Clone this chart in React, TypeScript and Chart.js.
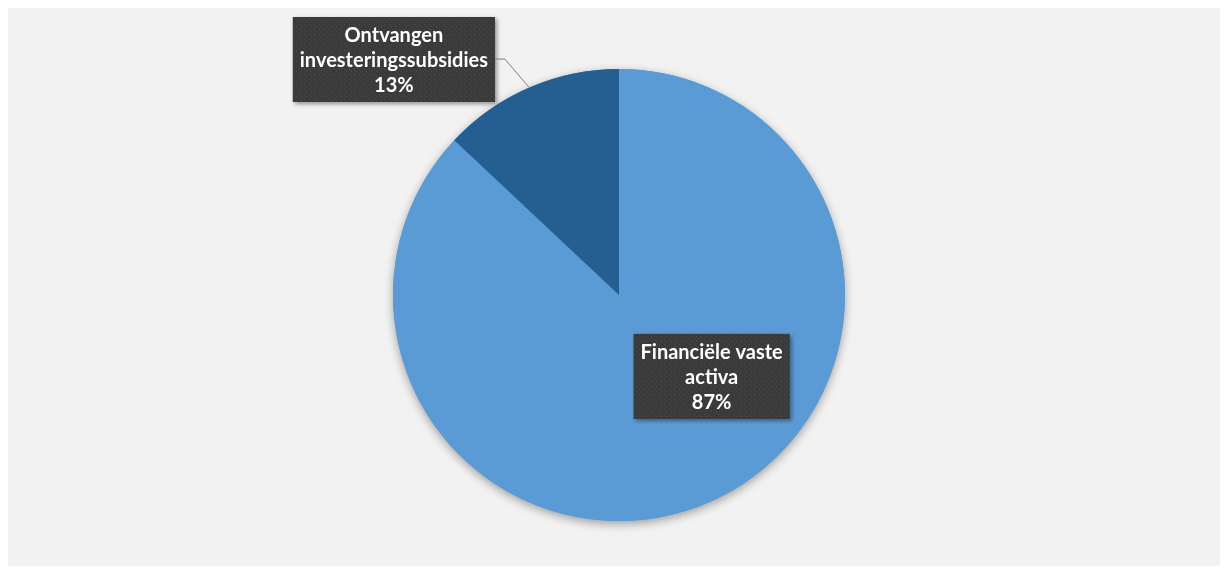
import React, { useEffect, useRef } from "react";
import { Chart, registerables } from "chart.js";
Chart.register(...registerables);

const categories = ["Financiële vaste activa", "Ontvangen investeringssubsidies"];
const values = [87, 13];
const labelNameLines = [["Financiële vaste", "activa"], ["Ontvangen", "investeringssubsidies"]];
const colors = ["#5b9bd5", "#255e91"];

const FONT = "bold 20px Lato, 'Open Sans', sans-serif";

function makePattern(ctx: CanvasRenderingContext2D) {
  const c = document.createElement("canvas");
  c.width = 5;
  c.height = 5;
  const g = c.getContext("2d")!;
  g.fillStyle = "#3a3a3a";
  g.fillRect(0, 0, 5, 5);
  g.fillStyle = "#4c4c4c";
  g.fillRect(1, 1, 1, 1);
  g.fillRect(3, 3, 1, 1);
  return ctx.createPattern(c, "repeat");
}

function drawBox(ctx: CanvasRenderingContext2D, cx: number, cy: number, lines: string[]) {
  ctx.save();
  ctx.font = FONT;
  const lh = 25;
  const tw = Math.max(...lines.map((l) => ctx.measureText(l).width));
  const w = tw + 14;
  const h = lines.length * lh + 10;
  const x = cx - w / 2;
  const y = cy - h / 2;
  ctx.shadowColor = "rgba(0,0,0,0.4)";
  ctx.shadowBlur = 4;
  ctx.shadowOffsetX = 2;
  ctx.shadowOffsetY = 2;
  ctx.fillStyle = makePattern(ctx) || "#3a3a3a";
  ctx.fillRect(x, y, w, h);
  ctx.shadowColor = "transparent";
  ctx.fillStyle = "#ffffff";
  ctx.textAlign = "center";
  ctx.textBaseline = "middle";
  lines.forEach((l, i) => {
    ctx.fillText(l, cx, y + 5 + lh / 2 + i * lh + 1);
  });
  ctx.restore();
  return { x, y, w, h };
}

const labelPlugin = {
  id: "pieLabels",
  beforeDatasetsDraw(chart: any) {
    const arc = chart.getDatasetMeta(0).data[0];
    if (!arc) return;
    const ctx = chart.ctx as CanvasRenderingContext2D;
    ctx.save();
    ctx.shadowColor = "rgba(0,0,0,0.35)";
    ctx.shadowBlur = 10;
    ctx.shadowOffsetY = 3;
    ctx.fillStyle = "#5b9bd5";
    ctx.beginPath();
    ctx.arc(arc.x, arc.y, arc.outerRadius, 0, Math.PI * 2);
    ctx.fill();
    ctx.restore();
  },
  afterDatasetsDraw(chart: any) {
    const ctx = chart.ctx as CanvasRenderingContext2D;
    const meta = chart.getDatasetMeta(0);
    const total = values.reduce((a, b) => a + b, 0);
    const texts = values.map((v, i) => [...labelNameLines[i], Math.round((v / total) * 100) + "%"]);
    const a0 = meta.data[0];
    const a1 = meta.data[1];
    const r = a0.outerRadius;
    // Label 0 inside the big slice
    drawBox(ctx, a0.x + 0.41 * r, a0.y + 0.36 * r, texts[0]);
    // Label 1 outside with leader line
    const mid = (a1.startAngle + a1.endAngle) / 2;
    const ex = a1.x + Math.cos(mid) * r;
    const ey = a1.y + Math.sin(mid) * r;
    const elbowX = a1.x - 0.505 * r;
    const elbowY = a1.y - 1.044 * r;
    const box = drawBox(ctx, a1.x - 0.996 * r, a1.y - 1.042 * r, texts[1]);
    ctx.save();
    ctx.strokeStyle = "#7f7f7f";
    ctx.lineWidth = 1;
    ctx.beginPath();
    ctx.moveTo(box.x + box.w, elbowY);
    ctx.lineTo(elbowX, elbowY);
    ctx.lineTo(ex, ey);
    ctx.stroke();
    ctx.restore();
  },
};

export default function App() {
  const ref = useRef<HTMLCanvasElement>(null);
  useEffect(() => {
    if (!ref.current) return;
    const chart = new Chart(ref.current, {
      type: "pie",
      data: {
        labels: categories,
        datasets: [
          {
            data: values,
            backgroundColor: colors,
            borderWidth: 0,
          },
        ],
      },
      options: {
        animation: false,
        responsive: true,
        maintainAspectRatio: false,
        layout: { padding: { top: 61, bottom: 45, left: 10, right: 0 } },
        plugins: {
          legend: { display: false },
          tooltip: { enabled: false },
        },
      },
      plugins: [labelPlugin],
    });
    return () => chart.destroy();
  }, []);
  return (
    <div style={{ position: "relative", height: 558, background: "#f2f2f2" }}>
      <canvas ref={ref} />
    </div>
  );
}
